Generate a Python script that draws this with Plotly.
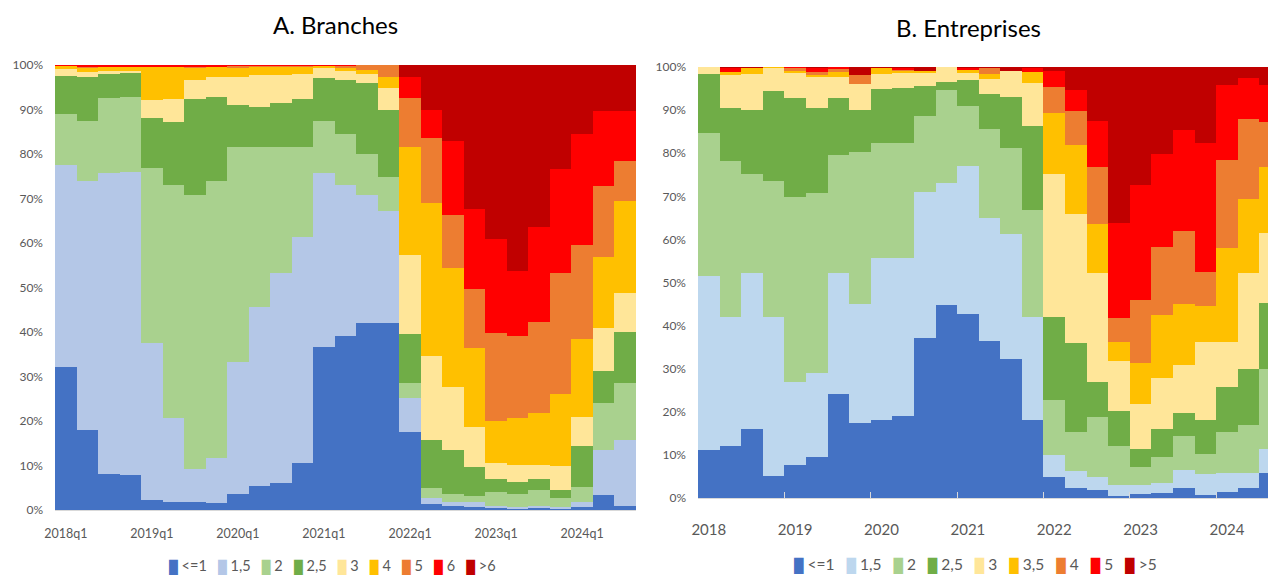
import plotly.graph_objects as go

# ---------------- Panel A: Branches (quarterly, 2018q1 - 2024q3) ----------------
quarters_a = [f"{y}q{q}" for y in range(2018, 2025) for q in range(1, 5)][:27]
names_a = ["<=1", "1,5", "2", "2,5", "3", "4", "5", "6", ">6"]
colors_a = ["#4472C4", "#B4C7E7", "#A9D18E", "#70AD47", "#FFE699",
            "#FFC000", "#ED7D31", "#FF0000", "#C00000"]

a_le1 = [32.1, 18.0, 8.2, 7.9, 2.2, 1.9, 1.7, 1.5, 3.6, 5.4, 6.1, 10.6, 36.6, 39.1,
         42.1, 42.1, 17.6, 1.3, 0.9, 0.7, 0.6, 0.4, 0.4, 0.4, 0.7, 3.4, 0.9]
a_1_5 = [45.4, 55.9, 67.6, 68.1, 35.3, 18.8, 7.5, 10.1, 29.7, 40.3, 47.2, 50.7, 39.1, 33.9,
         28.7, 25.1, 7.6, 1.3, 0.8, 1.0, 0.3, 0.2, 0.5, 0.3, 1.2, 10.1, 14.8]
a_2 = [11.5, 13.6, 16.7, 16.7, 39.3, 52.3, 61.6, 62.3, 48.3, 35.9, 28.3, 20.3, 11.8, 11.6,
       9.2, 7.7, 3.4, 2.4, 1.8, 1.5, 3.2, 3.0, 3.6, 1.9, 3.3, 10.5, 12.9]
a_2_5 = [8.6, 9.9, 5.5, 5.4, 11.2, 14.3, 21.5, 18.8, 9.4, 9.0, 9.8, 10.7, 9.5, 12.0,
         15.9, 15.1, 11.0, 10.7, 10.0, 6.5, 2.9, 2.8, 2.4, 2.0, 9.2, 7.3, 11.5]
a_3 = [1.5, 1.1, 0.7, 0.6, 4.1, 5.0, 4.3, 4.5, 6.4, 7.2, 6.4, 5.7, 2.5, 2.1,
       2.1, 4.8, 17.6, 18.8, 14.1, 9.0, 3.5, 3.7, 3.2, 5.3, 6.6, 9.7, 8.7]
a_4 = [0.7, 1.0, 0.9, 0.9, 7.5, 7.3, 2.9, 2.4, 1.9, 1.8, 1.8, 1.6, 0.3, 0.6,
       0.9, 2.6, 24.4, 34.4, 26.7, 17.6, 9.4, 10.6, 11.8, 16.1, 17.4, 15.9, 20.6]
a_5 = [0.0, 0.2, 0.1, 0.1, 0.0, 0.0, 0.2, 0.1, 0.5, 0.2, 0.2, 0.2, 0.0, 0.5,
       1.1, 2.6, 10.9, 14.8, 12.1, 13.3, 19.8, 18.4, 20.4, 27.3, 21.2, 15.9, 9.0]
a_6 = [0.2, 0.3, 0.3, 0.3, 0.4, 0.4, 0.3, 0.3, 0.2, 0.2, 0.2, 0.2, 0.2, 0.2,
       0.0, 0.0, 4.9, 6.3, 16.6, 18.0, 21.1, 14.7, 21.4, 23.3, 24.9, 16.9, 11.3]
a_gt6 = [0.0, 0.0, 0.0, 0.0, 0.0, 0.0, 0.0, 0.0, 0.0, 0.0, 0.0, 0.0, 0.0, 0.0,
         0.0, 0.0, 2.6, 10.0, 17.0, 32.4, 39.2, 46.2, 36.3, 23.4, 15.5, 10.3, 10.3]
series_a = [a_le1, a_1_5, a_2, a_2_5, a_3, a_4, a_5, a_6, a_gt6]
ticklabels_a = ["2018q1", "2019q1", "2020q1", "2021q1", "2022q1", "2023q1", "2024q1"]

# ---------------- Panel B: Entreprises (quarterly, 2018 - 2024) ----------------
quarters_b = [f"{y}q{q}" for y in range(2018, 2025) for q in range(1, 5)][:27]
names_b = ["<=1", "1,5", "2", "2,5", "3", "3,5", "4", "5", ">5"]
colors_b = ["#4472C4", "#BDD7EE", "#A9D18E", "#70AD47", "#FFE699",
            "#FFC000", "#ED7D31", "#FF0000", "#C00000"]

b_le1 = [11.2, 12.1, 16.1, 5.0, 7.6, 9.5, 24.2, 17.4, 18.1, 19.1, 37.2, 44.8, 42.6, 36.4,
         32.3, 18.0, 4.8, 2.3, 1.9, 0.4, 0.9, 1.2, 2.3, 0.6, 1.3, 2.3, 5.8]
b_1_5 = [40.4, 30.0, 36.0, 36.9, 19.2, 19.5, 27.9, 27.5, 37.5, 36.5, 33.8, 28.4, 34.4, 28.6,
         28.9, 23.9, 5.2, 3.9, 2.9, 2.7, 2.2, 2.3, 4.1, 5.0, 4.5, 3.6, 5.6]
b_2 = [33.0, 36.0, 23.0, 31.6, 43.1, 41.7, 27.4, 35.4, 26.8, 26.8, 17.6, 21.5, 13.9, 20.6,
       20.1, 25.0, 12.8, 9.0, 13.9, 8.9, 4.2, 6.0, 8.0, 4.6, 9.6, 11.1, 18.6]
b_2_5 = [13.7, 12.4, 14.9, 20.9, 22.9, 19.8, 13.3, 9.7, 12.4, 12.8, 7.0, 1.8, 6.0, 8.2,
         11.8, 19.4, 19.3, 20.7, 8.1, 8.1, 4.1, 6.6, 5.4, 7.9, 10.3, 13.0, 15.3]
b_3 = [1.7, 7.6, 8.3, 5.4, 5.8, 7.3, 4.9, 6.0, 3.5, 3.6, 2.9, 3.5, 1.7, 3.5,
       6.0, 10.1, 33.0, 29.9, 25.5, 11.6, 10.5, 11.7, 11.1, 18.0, 10.4, 22.3, 16.2]
b_3_5 = [0.0, 0.7, 1.5, 0.2, 0.5, 0.3, 1.1, 0.0, 1.5, 0.4, 0.5, 0.0, 0.6, 1.0,
         0.0, 2.4, 14.2, 16.1, 11.2, 4.6, 9.4, 14.7, 14.1, 8.5, 21.8, 17.0, 15.3]
b_4 = [0.0, 0.0, 0.0, 0.0, 0.7, 0.7, 0.8, 2.1, 0.0, 0.3, 0.0, 0.0, 0.0, 1.5,
       0.0, 0.0, 6.1, 7.8, 13.2, 5.4, 14.6, 15.8, 16.9, 7.9, 20.5, 18.6, 10.5]
b_5 = [0.0, 1.0, 0.0, 0.0, 0.2, 1.0, 0.4, 0.0, 0.0, 0.3, 0.0, 0.0, 0.6, 0.0,
       0.0, 1.0, 3.7, 4.9, 10.7, 22.2, 26.7, 21.6, 23.4, 29.9, 17.4, 9.6, 8.5]
b_gt5 = [0.0, 0.2, 0.2, 0.0, 0.0, 0.2, 0.0, 1.9, 0.2, 0.2, 1.0, 0.0, 0.2, 0.2,
         0.9, 0.2, 0.9, 5.4, 12.6, 36.1, 27.4, 20.1, 14.7, 17.6, 4.2, 2.5, 4.2]
series_b = [b_le1, b_1_5, b_2, b_2_5, b_3, b_3_5, b_4, b_5, b_gt5]
ticklabels_b = ["2018", "2019", "2020", "2021", "2022", "2023", "2024"]
yticks = [0, 10, 20, 30, 40, 50, 60, 70, 80, 90, 100]
yticktext = [f"{v}%" for v in yticks]

W, H = 1268, 575
FONT = "Lato, 'Open Sans', sans-serif"
GREY = "#595959"

fig = go.Figure()
xa = list(range(len(quarters_a)))
xb = list(range(len(quarters_b)))

for name, col, vals in zip(names_a, colors_a, series_a):
    fig.add_trace(go.Bar(x=xa, y=vals, name=name, marker=dict(color=col, line=dict(width=0)),
                         xaxis="x", yaxis="y", showlegend=False,
                         customdata=quarters_a, hovertemplate="%{customdata}: %{y}%<extra>" + name + "</extra>"))
for name, col, vals in zip(names_b, colors_b, series_b):
    fig.add_trace(go.Bar(x=xb, y=vals, name=name, marker=dict(color=col, line=dict(width=0)),
                         xaxis="x2", yaxis="y2", showlegend=False,
                         customdata=quarters_b, hovertemplate="%{customdata}: %{y}%<extra>" + name + "</extra>"))

q1_a = [quarters_a.index(t) for t in ticklabels_a]
q1_b = [quarters_b.index(t + "q1") for t in ticklabels_b]
bounds_b = [i - 0.5 for i in q1_b[1:]]

NB = "\u00a0"


def legend_html(names, colors, size, sep):
    parts = []
    for n, c in zip(names, colors):
        label = n.replace("<", "&lt;").replace(">", "&gt;")
        parts.append(f"<span style='color:{c};font-size:{size - 2}px'>█</span>{NB}{label}")
    return (NB * sep).join(parts)


fig.update_layout(
    width=W, height=H, autosize=False,
    margin=dict(l=0, r=0, t=0, b=0),
    paper_bgcolor="white", plot_bgcolor="white",
    barmode="stack", bargap=0,
    font=dict(family=FONT, color=GREY, size=12),
    xaxis=dict(domain=[55 / W, 636 / W], range=[-0.5, len(xa) - 0.5], anchor="y",
               tickmode="array", tickvals=q1_a, ticktext=ticklabels_a,
               showgrid=False, zeroline=False, showline=True, linecolor="#D9D9D9", linewidth=1,
               ticks="", tickfont=dict(size=12.5, color=GREY), ticklabelstandoff=12,
               automargin=False, fixedrange=True),
    yaxis=dict(domain=[1 - 510 / H, 1 - 65 / H], range=[0, 100], anchor="x",
               tickmode="array", tickvals=yticks, ticktext=yticktext,
               showgrid=False, zeroline=False, showline=False, ticks="",
               tickfont=dict(size=12, color=GREY), ticklabelstandoff=11,
               automargin=False, fixedrange=True),
    xaxis2=dict(domain=[698 / W, 1.0], range=[-0.5, 25.9], anchor="y2",
                tickmode="array", tickvals=q1_b, ticktext=ticklabels_b,
                showgrid=False, zeroline=False, showline=True, linecolor="#D9D9D9", linewidth=1,
                ticks="", tickfont=dict(size=15, color=GREY), ticklabelstandoff=18,
                minor=dict(tickmode="array", tickvals=bounds_b, ticks="inside", ticklen=6,
                           tickcolor="#D9D9D9", tickwidth=1, showgrid=False),
                automargin=False, fixedrange=True),
    yaxis2=dict(domain=[1 - 498 / H, 1 - 67 / H], range=[0, 100], anchor="x2",
                tickmode="array", tickvals=yticks, ticktext=yticktext,
                showgrid=False, zeroline=False, showline=False, ticks="",
                tickfont=dict(size=12, color=GREY), ticklabelstandoff=11,
                automargin=False, fixedrange=True),
    annotations=[
        dict(text="A. Branches", x=335 / W, y=1 - 25 / H, xref="paper", yref="paper",
             xanchor="center", yanchor="middle", showarrow=False,
             font=dict(family=FONT, size=24, color="#000000")),
        dict(text="B. Entreprises", x=968 / W, y=1 - 28 / H, xref="paper", yref="paper",
             xanchor="center", yanchor="middle", showarrow=False,
             font=dict(family=FONT, size=24, color="#000000")),
        dict(text=legend_html(names_a, colors_a, 14.5, 3), x=333 / W, y=1 - 566 / H,
             xref="paper", yref="paper", xanchor="center", yanchor="middle", showarrow=False,
             font=dict(family=FONT, size=14.5, color=GREY)),
        dict(text=legend_html(names_b, colors_b, 15.5, 3), x=975 / W, y=1 - 565 / H,
             xref="paper", yref="paper", xanchor="center", yanchor="middle", showarrow=False,
             font=dict(family=FONT, size=15.5, color=GREY)),
    ],
)

fig.write_html("out.html", config={"displayModeBar": False},
               post_script="document.body.style.margin='0';document.body.style.overflow='hidden';")
